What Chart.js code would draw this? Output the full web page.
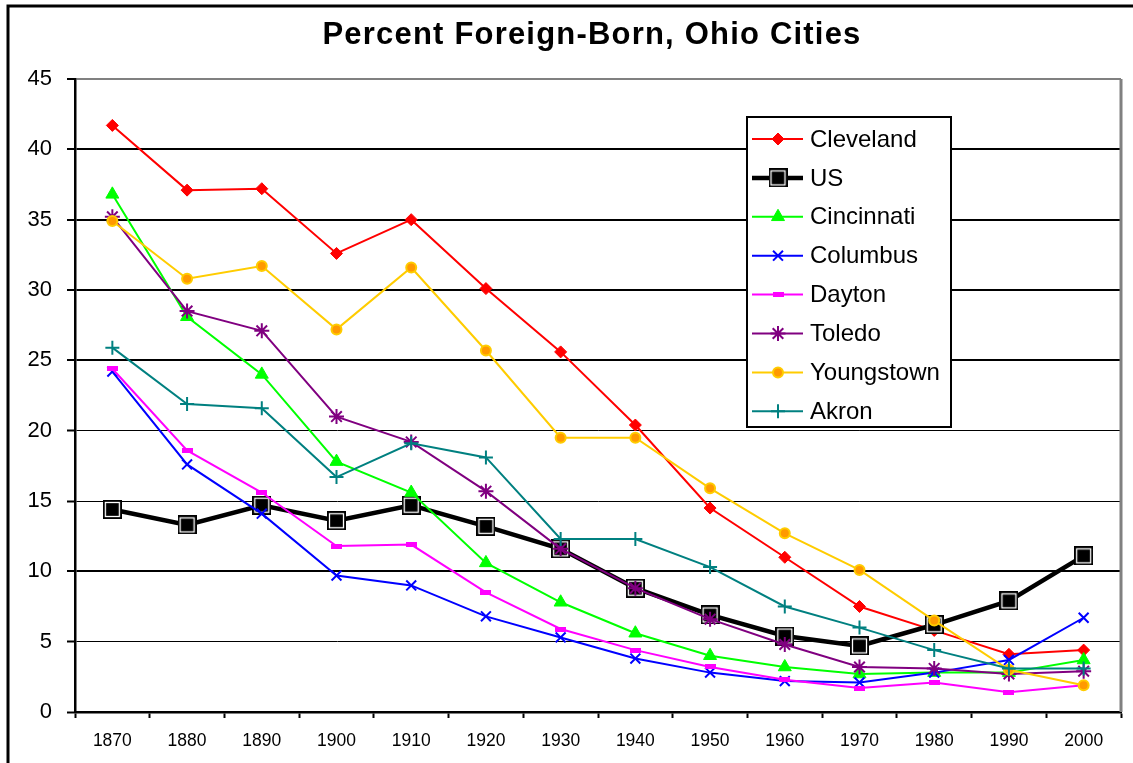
<!DOCTYPE html>
<html>
<head>
<meta charset="utf-8">
<script src="https://cdn.jsdelivr.net/npm/chart.js@4"></script>
<style>
  html, body { margin: 0; padding: 0; background: #fff; }
  #wrap { width: 1133px; height: 763px; position: relative; }
</style>
</head>
<body>
<div id="wrap"><canvas id="chart"></canvas></div>
<script>
// Valores (percentual de nascidos no exterior)
const anos = ['1870', '1880', '1890', '1900', '1910', '1920', '1930', '1940', '1950', '1960', '1970', '1980', '1990', '2000'];
const cleveland = [41.7, 37.1, 37.2, 32.6, 35.0, 30.1, 25.6, 20.4, 14.5, 11.0, 7.5, 5.8, 4.1, 4.4];
const us = [14.4, 13.3, 14.7, 13.6, 14.7, 13.2, 11.6, 8.8, 6.9, 5.4, 4.7, 6.2, 7.9, 11.1];
const cincinnati = [36.8, 28.1, 24.0, 17.8, 15.6, 10.6, 7.8, 5.6, 4.0, 3.2, 2.7, 2.8, 2.8, 3.7];
const columbus = [24.2, 17.6, 14.1, 9.7, 9.0, 6.8, 5.3, 3.8, 2.8, 2.2, 2.1, 2.8, 3.7, 6.7];
const dayton = [24.4, 18.6, 15.6, 11.8, 11.9, 8.5, 5.9, 4.4, 3.2, 2.3, 1.7, 2.1, 1.4, 1.9];
const toledo = [35.2, 28.5, 27.1, 21.0, 19.2, 15.7, 11.6, 8.8, 6.6, 4.8, 3.2, 3.1, 2.7, 2.9];
const youngstown = [34.9, 30.8, 31.7, 27.2, 31.6, 25.7, 19.5, 19.5, 15.9, 12.7, 10.1, 6.5, 3.0, 1.9];
const akron = [25.9, 21.9, 21.6, 16.7, 19.1, 18.1, 12.3, 12.3, 10.3, 7.5, 6.0, 4.4, 3.1, 3.1];
const yTicks = [0, 5, 10, 15, 20, 25, 30, 35, 40, 45];

const FONT = '"Liberation Sans", Arial, sans-serif';

// marcador quadrado do US (preto com contorno branco interno)
const quadradoUS = (() => {
    const c = document.createElement('canvas');
    c.width = 19; c.height = 19;
    const g = c.getContext('2d');
    g.fillStyle = '#000';
    g.fillRect(0, 0, 19, 19);
    g.strokeStyle = '#fff';
    g.lineWidth = 1.3;
    g.strokeRect(2.5, 2.5, 14, 14);
    return c;
})();

// marcador traço do Dayton
const tracoDayton = (() => {
    const c = document.createElement('canvas');
    c.width = 11; c.height = 5;
    const g = c.getContext('2d');
    g.fillStyle = '#FF00FF';
    g.fillRect(0, 0, 11, 5);
    return c;
})();

const serie = (label, data, cor, extra) => Object.assign({
    label, data,
    borderColor: cor,
    backgroundColor: cor,
    pointBackgroundColor: cor,
    pointBorderColor: cor,
    borderWidth: 2,
    pointBorderWidth: 2,
    pointRadius: 6,
    tension: 0
}, extra);

const datasets = [
    serie('Cleveland', cleveland, '#FF0000', { pointStyle: 'rectRot', pointRadius: 6, pointBorderWidth: 1 }),
    serie('US', us, '#000000', { pointStyle: quadradoUS, borderWidth: 4.5 }),
    serie('Cincinnati', cincinnati, '#00FF00', { pointStyle: 'triangle', pointRadius: 7.5, pointBorderWidth: 1 }),
    serie('Columbus', columbus, '#0000FF', { pointStyle: 'crossRot', pointRadius: 7 }),
    serie('Dayton', dayton, '#FF00FF', { pointStyle: tracoDayton }),
    serie('Toledo', toledo, '#800080', { pointStyle: 'star', pointRadius: 7.5 }),
    serie('Youngstown', youngstown, '#FFCC00', { pointStyle: 'circle', pointRadius: 5, pointBackgroundColor: '#FF9900', pointBorderColor: '#FFCC00' }),
    serie('Akron', akron, '#008080', { pointStyle: 'cross', pointRadius: 7 })
];
// no Excel a última série fica por cima
datasets.forEach((d, i) => { d.order = datasets.length - i; });

const molduraPlugin = {
    id: 'moldura',
    beforeDraw(chart) {
        const ctx = chart.ctx;
        ctx.save();
        ctx.fillStyle = '#fff';
        ctx.fillRect(0, 0, chart.width, chart.height);
        ctx.strokeStyle = '#000';
        ctx.lineWidth = 3;
        ctx.beginPath();
        ctx.moveTo(8, chart.height + 5);
        ctx.lineTo(8, 6);
        ctx.lineTo(chart.width + 5, 6);
        ctx.stroke();
        ctx.restore();
    },
    afterDraw(chart) {
        const ctx = chart.ctx;
        const a = chart.chartArea;
        ctx.save();
        // borda direita cinza da área do gráfico
        ctx.strokeStyle = '#808080';
        ctx.lineWidth = 3;
        ctx.beginPath();
        ctx.moveTo(a.right, a.top);
        ctx.lineTo(a.right, a.bottom);
        ctx.stroke();

        // título
        ctx.fillStyle = '#000';
        ctx.font = 'bold 31px ' + FONT;
        ctx.letterSpacing = '1.2px';
        ctx.textAlign = 'center';
        ctx.textBaseline = 'middle';
        ctx.fillText('Percent Foreign-Born, Ohio Cities', 592, 35);
        ctx.restore();
    }
};

const legendaPlugin = {
    id: 'legendaInterna',
    afterDraw(chart) {
        const ctx = chart.ctx;
        const bx = 747, by = 117, bw = 204, bh = 310;
        ctx.save();
        ctx.fillStyle = '#fff';
        ctx.fillRect(bx, by, bw, bh);
        ctx.strokeStyle = '#000';
        ctx.lineWidth = 2;
        ctx.strokeRect(bx, by, bw, bh);
        ctx.font = '24px ' + FONT;
        ctx.textBaseline = 'middle';
        ctx.textAlign = 'left';
        chart.data.datasets.forEach((d, i) => {
            const y = by + 22 + i * 38.9;
            ctx.strokeStyle = d.borderColor;
            ctx.lineWidth = d.borderWidth;
            ctx.beginPath();
            ctx.moveTo(bx + 5, y);
            ctx.lineTo(bx + 56, y);
            ctx.stroke();
            ctx.fillStyle = d.pointBackgroundColor;
            ctx.strokeStyle = d.pointBorderColor;
            ctx.lineWidth = d.pointBorderWidth;
            Chart.helpers.drawPoint(ctx, {
                pointStyle: d.pointStyle,
                radius: d.pointRadius,
                rotation: 0,
                borderWidth: d.pointBorderWidth
            }, bx + 31, y);
            ctx.fillStyle = '#000';
            ctx.fillText(d.label, bx + 63, y + 1);
        });
        ctx.restore();
    }
};

new Chart(document.getElementById('chart'), {
    type: 'line',
    data: { labels: anos, datasets },
    plugins: [molduraPlugin, legendaPlugin],
    options: {
        responsive: true,
        maintainAspectRatio: false,
        animation: false,
        layout: { padding: { top: 79, right: 12, left: 0, bottom: 0 } },
        plugins: {
            legend: { display: false },
            title: { display: false },
            tooltip: { enabled: false }
        },
        scales: {
            x: {
                offset: true,
                grid: {
                    offset: true,
                    drawOnChartArea: false,
                    drawTicks: true,
                    tickLength: 6,
                    tickColor: '#000',
                    tickWidth: 2
                },
                border: { display: true, color: '#000', width: 2.5 },
                ticks: {
                    color: '#000',
                    font: { family: FONT, size: 17.5 },
                    padding: 13,
                    maxRotation: 0,
                    autoSkip: false
                },
                afterFit(scale) { scale.height = 51; }
            },
            y: {
                min: 0,
                max: 45,
                afterBuildTicks(scale) { scale.ticks = yTicks.map(v => ({ value: v })); },
                grid: {
                    color: c => c.tick && c.tick.value === 45 ? '#808080' : '#000',
                    lineWidth: c => c.tick && [40, 35, 30, 25, 10, 45].includes(c.tick.value) ? 2 : 1,
                    tickColor: '#000',
                    tickLength: 8,
                    tickWidth: 2
                },
                border: { display: true, color: '#000', width: 2.5 },
                ticks: {
                    color: '#000',
                    font: { family: FONT, size: 22 },
                    padding: 15
                },
                afterFit(scale) { scale.width = 75; }
            }
        }
    }
});
</script>
</body>
</html>
